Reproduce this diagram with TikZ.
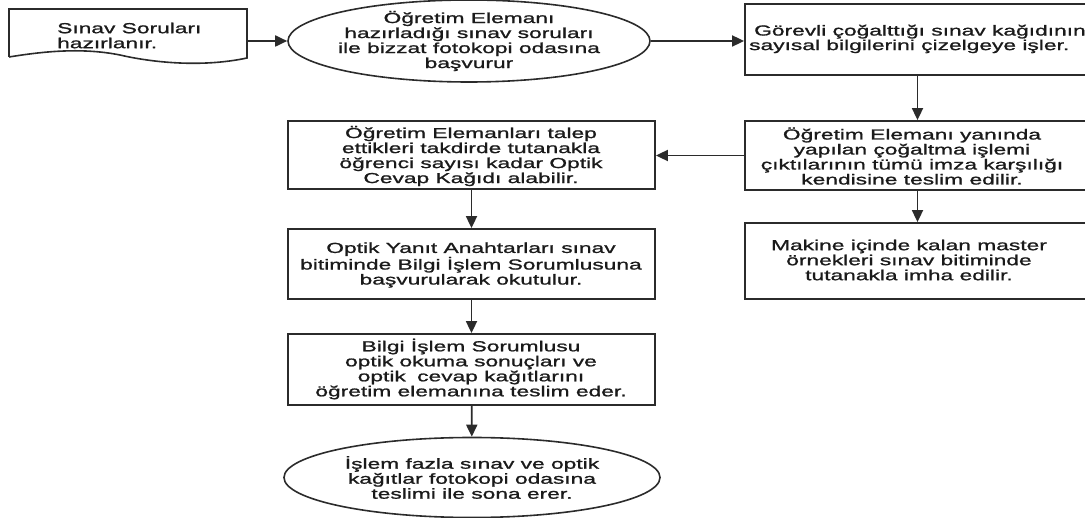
\documentclass[tikz,border=0pt]{standalone}
\usepackage{fontspec}
\setmainfont{Liberation Sans}[FakeStretch=1.57,FakeBold=1.2]
\usetikzlibrary{shapes.geometric,arrows.meta}
\definecolor{ln}{HTML}{2B2B2B}
\definecolor{tx}{HTML}{1A1A1A}
\tikzset{
  box/.style={draw=ln, line width=1.8pt, rectangle, inner sep=0pt},
  oval/.style={draw=ln, line width=1.6pt, ellipse, inner sep=0pt},
  txt/.style={text=tx, align=center, inner sep=0pt, font=\fontsize{14.5pt}{15pt}\selectfont},
  arr/.style={draw=ln, line width=1.8pt, -{Triangle[length=12pt,width=11pt]}}
}
\begin{document}
\begin{tikzpicture}[x=1pt,y=-1pt]
\useasboundingbox (0,0) rectangle (1085,518);
% document shape
\node[inner sep=0pt, minimum width=238pt, minimum height=53pt] (doc) at (128,35.5) {};
\draw[ln, line width=1.6pt] (9,57) -- (9,9) -- (247,9) -- (247,58)
   .. controls (200,68) and (150,62) .. (120,55) .. controls (80,47) and (40,52) .. (9,57);
\node[txt, align=left, anchor=west] at (57,35.5) {Sınav Soruları\\hazırlanır.};
% top ellipse
\node[oval, minimum width=362pt, minimum height=82pt] (e1) at (469,41) {};
\node[txt] at (e1) {Öğretim Elemanı\\hazırladığı sınav soruları\\ile bizzat fotokopi odasına\hspace{10pt}\\başvurur};
% right column
\node[box, minimum width=345pt, minimum height=71pt] (b1) at (917.5,39.5) {};
\node[txt, align=left, anchor=west, font=\fontsize{14.5pt}{13pt}\selectfont] at (749,39) {\hspace{5pt}Görevli çoğalttığı sınav kağıdının\\sayısal bilgilerini çizelgeye işler.};
\node[box, minimum width=345pt, minimum height=69pt] (b2) at (917.5,155.5) {};
\node[txt] at (912,156) {Öğretim Elemanı yanında\\yapılan çoğaltma işlemi\\çıktılarının tümü imza karşılığı\\kendisine teslim edilir.};
\node[box, minimum width=345pt, minimum height=76pt] (b3) at (917.5,261) {};
\node[txt] at (909,260) {Makine içinde kalan master\\örnekleri sınav bitiminde\\tutanakla imha edilir.};
% left column
\node[box, minimum width=367pt, minimum height=68pt] (l1) at (471.5,155) {};
\node[txt] at (471,156) {Öğretim Elemanları talep\\ettikleri takdirde tutanakla\\öğrenci sayısı kadar Optik\\Cevap Kağıdı alabilir.};
\node[box, minimum width=367pt, minimum height=70pt] (l2) at (471.5,264) {};
\node[txt] at (471,265) {Optik Yanıt Anahtarları sınav\\bitiminde Bilgi İşlem Sorumlusuna\hspace{8pt}\\başvurularak okutulur.};
\node[box, minimum width=367pt, minimum height=71pt] (l3) at (471.5,369.5) {};
\node[txt] at (471,369) {Bilgi İşlem Sorumlusu\\optik okuma sonuçları ve\\optik\hspace{5pt} cevap kağıtlarını\\öğretim elemanına teslim eder.};
\node[oval, minimum width=376pt, minimum height=80pt] (e2) at (472,477.5) {};
\node[txt] at (e2) {İşlem fazla sınav ve optik\\kağıtlar fotokopi odasına\\teslimi ile sona erer.};
% connectors
\draw[arr] (doc.east |- e1) -- (e1);
\draw[arr] (e1.east) -- (e1.east -| b1.west);
\draw[arr] (b1) -- (b2);
\draw[arr] (b2) -- (b3);
\draw[arr] (b2.west) -- (b2.west -| l1.east);
\draw[arr] (l1) -- (l2);
\draw[arr] (l2) -- (l3);
\draw[arr] (l3) -- (e2);
\end{tikzpicture}
\end{document}
